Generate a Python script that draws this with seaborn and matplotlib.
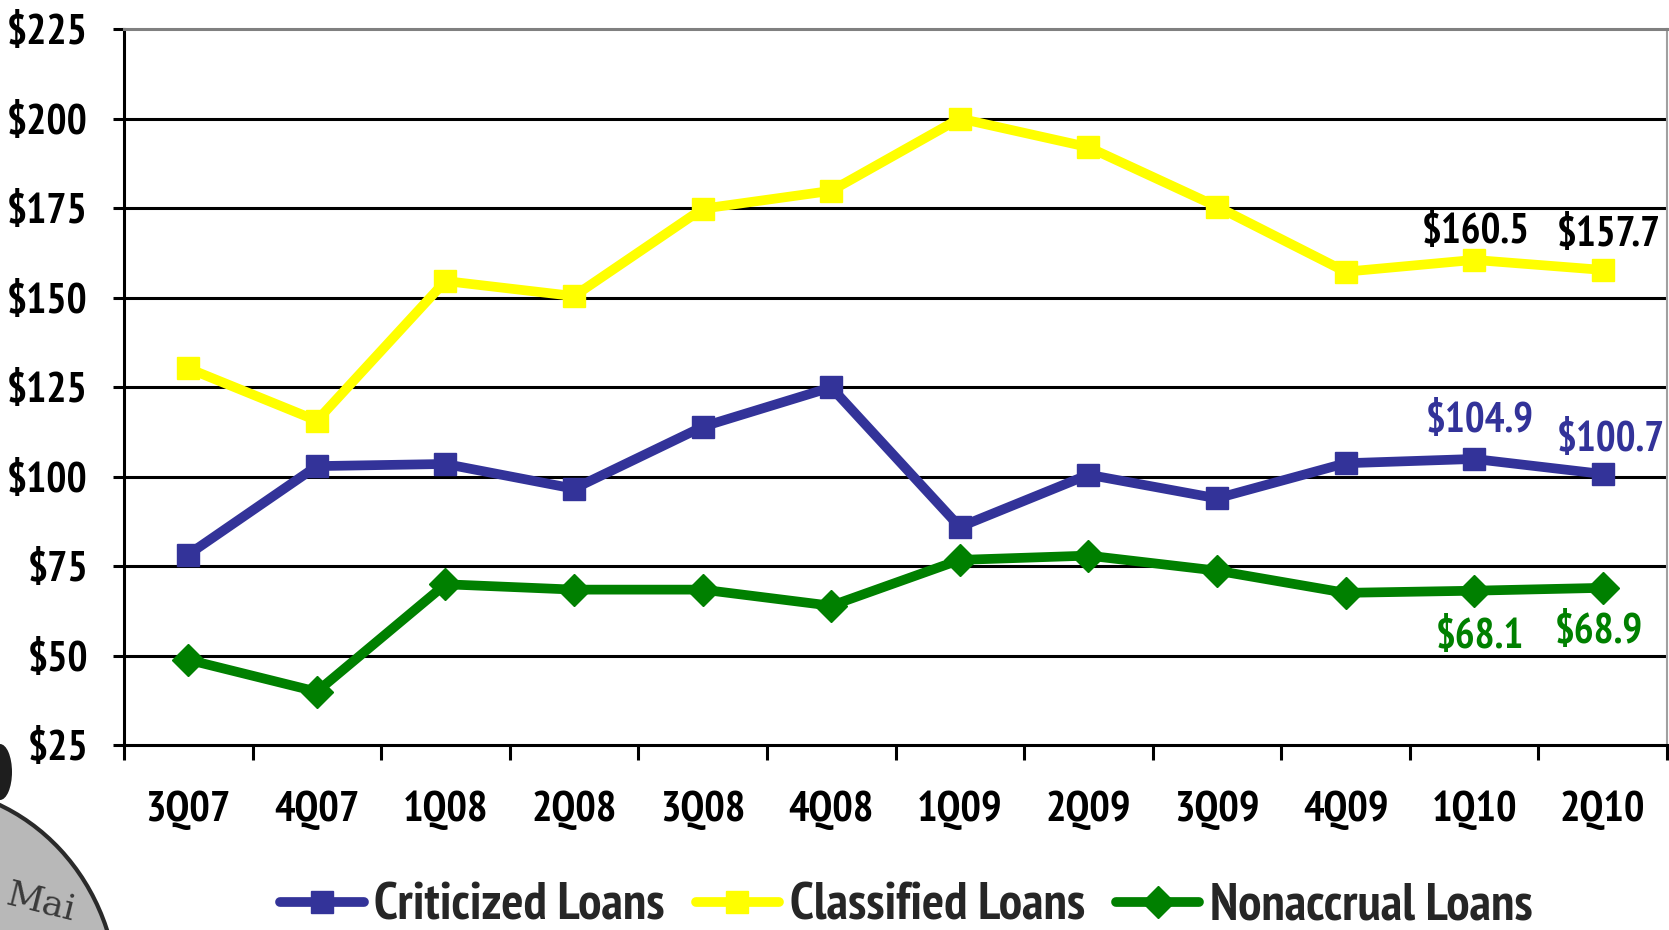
import numpy as np
import pandas as pd
import matplotlib
matplotlib.use("Agg")
import matplotlib.pyplot as plt
from matplotlib import font_manager
from matplotlib.patches import Ellipse
import seaborn as sns

# Quarterly loan balances ($ millions)
quarters = ["3Q07", "4Q07", "1Q08", "2Q08", "3Q08", "4Q08",
            "1Q09", "2Q09", "3Q09", "4Q09", "1Q10", "2Q10"]
criticized = [78.2, 102.9, 103.5, 96.6, 113.9, 124.9,
              85.9, 100.5, 93.9, 103.7, 104.9, 100.7]
classified = [130.2, 115.6, 154.6, 150.4, 174.8, 179.8,
              200.0, 192.0, 175.4, 157.2, 160.5, 157.7]
nonaccrual = [48.8, 39.9, 69.9, 68.4, 68.4, 63.9,
              76.7, 77.9, 73.7, 67.5, 68.1, 68.9]
series_names = ["Criticized Loans", "Classified Loans", "Nonaccrual Loans"]
y_ticks = [25, 50, 75, 100, 125, 150, 175, 200, 225]

BLUE = "#333399"
YELLOW = "#FFFF00"
GREEN = "#008000"

sns.set_theme(style="white")

# pick a narrow bold sans face
bold_families = {f.name for f in font_manager.fontManager.ttflist
                 if isinstance(f.weight, int) and f.weight >= 700}
preferred = ["Arial Narrow", "Liberation Sans Narrow", "PT Sans Narrow",
             "Pragati Narrow", "Archivo Narrow", "Roboto Condensed",
             "Fira Sans Condensed", "IBM Plex Sans Condensed"]
narrow = next((f for f in preferred if f in bold_families), "DejaVu Sans")
plt.rcParams["font.family"] = [narrow, "DejaVu Sans"]
plt.rcParams["font.weight"] = "bold"

fig = plt.figure(figsize=(16.69, 9.30), dpi=100)
fig.patch.set_facecolor("white")
ax = fig.add_axes([124 / 1669, 185 / 930, 1543 / 1669, 716 / 930])

df = pd.DataFrame({
    "pos": list(range(len(quarters))) * 3,
    "value": criticized + classified + nonaccrual,
    "series": np.repeat(series_names, len(quarters)),
})

styles = {
    "Criticized Loans": (BLUE, "s", 16),
    "Classified Loans": (YELLOW, "s", 16),
    "Nonaccrual Loans": (GREEN, "D", 16),
}
for name in series_names:
    color, marker, ms = styles[name]
    sub = df[df["series"] == name]
    sns.lineplot(data=sub, x="pos", y="value", ax=ax, color=color,
                 linewidth=7, marker=marker, markersize=ms,
                 markeredgecolor=color, markeredgewidth=1,
                 label=name, zorder=3, legend=False)

ax.set_xlim(-0.5, len(quarters) - 0.5)
ax.set_ylim(25, 225)
ax.set_yticks(y_ticks)
ax.set_yticklabels([f"${v}" for v in y_ticks])
ax.set_xticks(range(len(quarters)))
ax.set_xticklabels(quarters)
ax.set_xticks(np.arange(-0.5, len(quarters), 1.0), minor=True)
ax.set_xlabel("")
ax.set_ylabel("")

ax.tick_params(axis="y", which="major", direction="out", length=8, width=2.2,
               color="black", pad=18, labelsize=30.5, left=True)
ax.tick_params(axis="x", which="major", length=0, pad=33, labelsize=31)
ax.tick_params(axis="x", which="minor", direction="out", length=11, width=2.2,
               color="black", bottom=True)
for lab in ax.get_xticklabels() + ax.get_yticklabels():
    lab.set_fontweight("bold")
    lab.set_color("black")

for v in y_ticks[1:-1]:
    ax.axhline(v, color="black", linewidth=2.2, zorder=1)

for side in ("left", "bottom"):
    ax.spines[side].set_color("black")
    ax.spines[side].set_linewidth(2.2)
ax.spines["top"].set_color("#808080")
ax.spines["top"].set_linewidth(2.2)
ax.spines["right"].set_color("#a0a0a0")
ax.spines["right"].set_linewidth(1.5)

# value callouts on the two latest quarters
callouts = [
    (10, classified[10], (1.5, 20), "black"),
    (11, classified[11], (4, 25), "black"),
    (10, criticized[10], (4, 27), BLUE),
    (11, criticized[11], (6, 24), BLUE),
    (10, nonaccrual[10], (4, -34), GREEN),
    (11, nonaccrual[11], (-3, -32), GREEN),
]
for x, v, off, col in callouts:
    ax.annotate(f"${v:.1f}", xy=(x, v), xytext=off, textcoords="offset points",
                ha="center", va="center", fontsize=30, fontweight="bold",
                color=col, zorder=5)

handles, labels = ax.get_legend_handles_labels()
fig.legend(handles, labels, loc="center", bbox_to_anchor=(0.543, 0.025),
           ncol=3, frameon=False, handlelength=1.6,
           handletextpad=0.2, columnspacing=0.6,
           prop={"weight": "bold", "size": 37.5})

# corner emblem peeking in at the lower left
fig.patches.append(Ellipse((-80 / 1669, -70 / 930), 396 / 1669, 426 / 930,
                           transform=fig.transFigure, facecolor="#b8b8b8",
                           edgecolor="#2a2a2a", linewidth=3, zorder=0))
fig.patches.append(Ellipse((0, 158 / 930), 24 / 1669, 56 / 930,
                           transform=fig.transFigure, facecolor="#1e1e1e",
                           edgecolor="none", zorder=0))
fig.text(3 / 1669, 10 / 930, "Mai", fontsize=26, family="DejaVu Serif",
         fontweight="normal", color="#3a3a3a", rotation=-14, zorder=1)

fig.savefig("out.png", dpi=100)
